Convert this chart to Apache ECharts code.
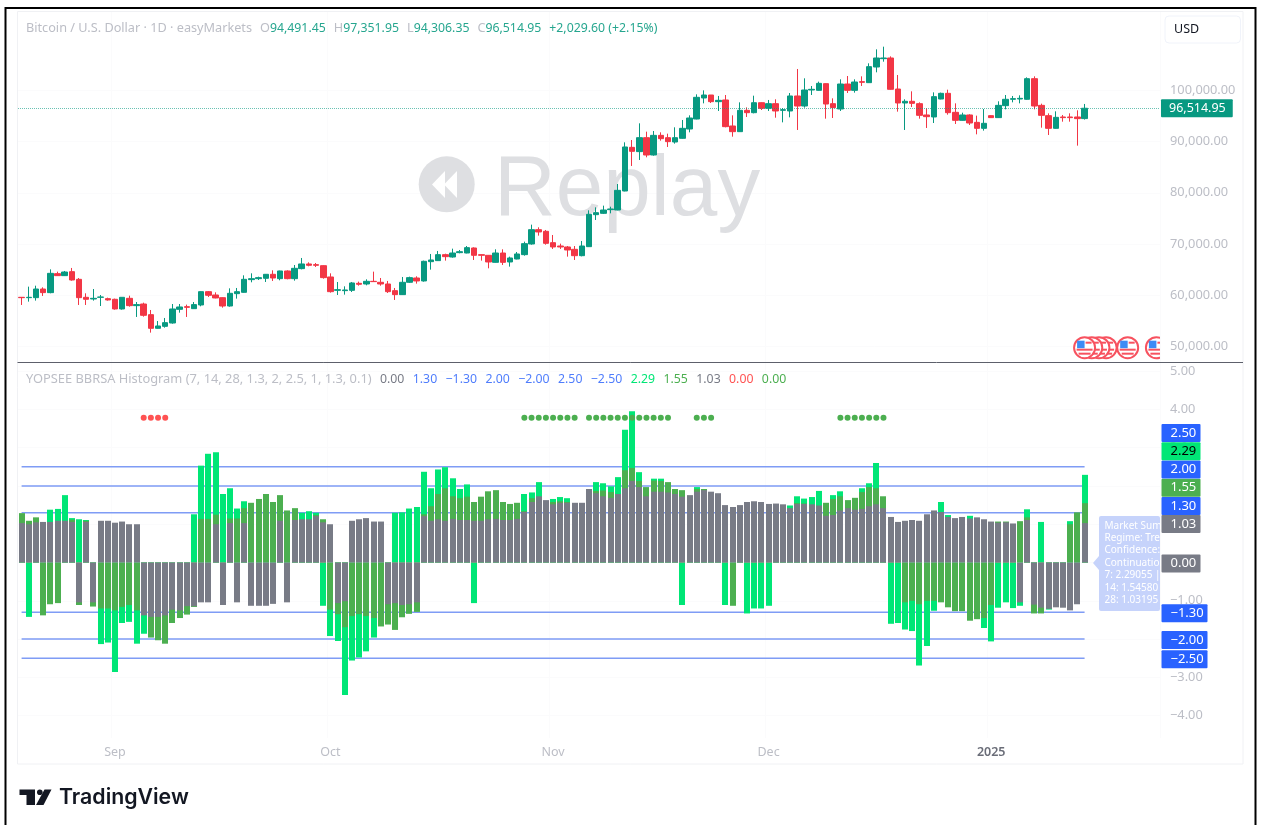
<!DOCTYPE html>
<html>
<head>
<meta charset="utf-8">
<title>BTCUSD BBRSA Histogram</title>
<script src="https://cdn.jsdelivr.net/npm/echarts@6/dist/echarts.min.js"></script>
<style>
  html, body { margin: 0; padding: 0; background: #fff; }
  #main { width: 1264px; height: 825px; filter: blur(0.35px); }
</style>
</head>
<body>
<div id="main"></div>
<script>
// daily candles, 2024-08-19 to 2025-01-14
const opens = [
  59590,59520,59520,61210,60500,64210,63820,64600,63100,59590,
  59260,59590,59330,59200,57310,59390,57960,58280,56200,53530,
  53920,54570,57240,57760,57370,58090,60690,60040,59520,57890,
  60300,60560,63040,63230,63300,64080,63230,64730,63230,65190,
  66100,65970,65770,63560,60950,60890,60950,62320,62190,62710,
  62520,62190,60890,60110,62520,63360,62780,66550,66750,67920,
  67460,68310,68240,69220,67920,67790,66420,68240,66490,67070,
  67920,70000,72800,72480,70260,69610,69420,68960,67720,69480,
  75730,75990,76710,76640,80350,88880,88040,90770,87380,91220,
  90770,89920,90640,92460,94410,98520,99100,97800,98130,93050,
  91940,96110,95650,97600,96500,97410,96110,95980,98910,96950,
  100080,100010,101320,97410,96370,101250,100010,101710,101510,104570,
  106200,106330,100270,97540,97870,97410,95200,94810,98320,99430,
  95720,94150,95200,93760,92590,95070,94680,97020,98260,98320,
  98260,102290,97080,95070,92590,94810,94810,94810,94491.45
];
const highs = [
  59650,61670,61860,61540,65050,64600,64730,65320,63360,60370,
  61210,60040,59520,59330,59590,59910,58670,58540,57110,54960,
  55550,58280,58280,58160,58670,60760,60820,60560,59590,61340,
  61410,63880,64270,63620,64140,64860,64790,64860,65900,67270,
  66420,66290,65840,64270,62580,61730,62580,62650,63100,64600,
  63360,62780,61410,63560,63620,63690,66750,68050,68640,68110,
  69090,68830,69610,69350,67980,67850,68960,68960,67530,68440,
  70460,73780,73260,72740,71760,70070,69610,69610,70590,76580,
  77160,77490,77290,81720,89860,90310,93570,91940,92070,91810,
  91550,92790,94220,95130,99230,100010,99100,98910,99100,95130,
  97670,96690,98970,97670,98130,98260,96560,99490,104180,102360,
  100860,101710,101380,98450,102160,102810,102160,102750,105290,108020,
  108540,106650,103010,98260,99820,97670,96500,99620,99560,100140,
  97470,95650,95330,95070,96370,95130,97870,99100,98910,99040,
  102550,102750,97410,95520,95910,95200,95520,96110,97351.95
];
const lows = [
  58090,58740,58940,59850,60370,63750,63750,62840,58090,58090,
  58940,57890,58940,57180,57180,57760,55750,55810,52690,53470,
  53660,54440,56590,55750,57310,57830,59650,59390,57570,57760,
  59330,60500,62520,62970,62580,62780,62910,63100,62840,65050,
  65640,65510,63230,60500,60040,60110,60630,61860,61930,62580,
  61860,60430,59070,60040,62390,62260,62650,64990,66680,66750,
  67330,68180,68180,66880,66750,65250,66360,65900,65580,67010,
  67720,69870,71630,69870,69030,69030,67530,66880,67590,69420,
  74690,75860,75990,76580,80290,85240,86410,86930,87250,90180,
  88950,89600,90570,91810,94350,97470,97540,95980,92790,90960,
  91880,94810,95520,96170,95980,94670,93760,94740,92270,96630,
  99100,99950,94480,94610,95980,99490,99560,100860,101450,103530,
  105610,100140,95850,92270,96760,94480,92660,93630,98260,95260,
  93440,94090,93240,91420,92140,94610,94610,96300,97670,97470,
  98190,96300,92720,91290,92530,93890,93890,89210,94306.35
];
const closes = [
  59520,59590,61210,60500,64270,63820,64530,62970,59520,59200,
  59390,59650,59070,57310,59590,57960,58160,56070,53530,53990,
  54640,57310,57700,57630,58160,60690,59980,59460,57890,60370,
  60690,63100,63230,63430,64080,63360,64730,63230,65250,66100,
  65840,65840,63430,60690,61080,61020,62390,62130,62710,62650,
  62190,60690,60110,62520,63430,62780,66620,66880,67920,67530,
  68240,68500,69290,67790,67790,66490,68240,66420,67270,68050,
  70070,72800,72350,70130,69420,69420,68830,67720,69610,75800,
  76120,76640,76840,80480,88950,88100,90770,87380,91220,90570,
  89990,90770,92590,94610,98650,99100,97800,98060,92920,91940,
  96110,95650,97600,96500,97410,95980,96240,98910,96950,100080,
  100210,101380,97340,96630,101250,100010,101640,101580,104640,106330,
  106330,100210,97540,97870,97470,95130,94870,98780,99430,95650,
  94150,95200,93630,92590,93570,94680,97080,98260,98390,98450,
  102290,96950,95130,92590,94740,94680,94680,94485.35,96514.95
];

// indicator histogram, three lookbacks
const bbrsa7 = [
  0.9,-1.42,0.95,-0.9,1.38,1.40,1.76,1.16,1.13,1.11,
  -0.9,-2.13,-2.09,-2.86,-1.58,-1.55,-2.12,-1.86,-1.4,-1.3,
  -1.3,-1.2,-1.2,-1.1,1.26,2.53,2.84,2.88,1.79,1.94,
  1.41,1.60,1.3,1.4,1.5,1.4,1.5,1.2,1.3,1.30,
  1.34,1.30,-1.13,-1.92,-2.05,-3.46,-2.56,-2.48,-2.32,-1.96,
  -1.3,-1.3,1.30,1.31,1.41,1.45,2.37,1.94,2.43,2.49,
  2.20,1.92,2.04,-1.06,1.5,1.7,1.7,1.4,1.4,1.4,
  1.79,1.83,2.10,1.4,1.66,1.71,1.68,1.4,1.4,1.7,
  2.10,2.07,1.99,2.23,3.47,3.95,2.36,1.9,2.19,2.19,
  1.95,1.8,-1.11,1.6,1.97,1.8,1.7,1.7,-1.11,-1.0,
  1.3,-1.33,-1.20,-1.20,-1.13,1.4,1.4,1.49,1.73,1.67,
  1.71,1.87,1.4,1.76,1.86,1.5,1.5,1.94,2.07,2.60,
  1.5,-1.60,-1.58,-1.75,-1.79,-2.69,-2.18,-1.26,1.58,1.24,
  -1.0,-1.0,1.22,-1.2,-1.71,-2.06,-1.18,-1.04,-1.19,-1.13,
  1.39,-1.0,1.06,-1.23,-1.0,-1.0,1.08,1.0,2.29
];
const bbrsa14 = [
  1.29,1.09,1.18,-1.38,-1.09,-1.06,0.95,1.12,-1.11,1.09,
  -1.15,-1.20,-1.20,-1.25,-1.16,-1.11,-1.25,-1.0,-1.96,-2.03,
  -2.12,-1.58,-1.45,-1.36,-1.16,1.14,1.14,1.25,-1.0,1.15,
  1.15,1.42,1.56,1.66,1.79,1.58,1.76,1.36,1.42,1.1,
  1.1,1.24,1.13,-1.23,-1.35,-1.69,-1.40,-1.35,-1.40,-1.45,
  -1.67,-1.62,-1.76,-1.43,-1.34,-1.29,1.26,1.47,1.79,1.94,
  1.73,1.68,1.72,1.58,1.72,1.86,1.89,1.58,1.53,1.56,
  1.34,1.68,1.6,1.5,1.58,1.60,1.58,1.5,1.5,1.8,
  1.87,1.88,1.84,1.7,2.41,2.47,2.13,1.97,2.14,2.13,
  2.10,1.92,1.89,1.7,1.92,1.92,1.8,1.7,1.4,-1.13,
  1.4,1.4,1.4,1.4,1.4,1.4,1.4,1.3,1.55,1.54,
  1.5,1.4,1.56,1.66,1.73,1.63,1.69,1.84,1.97,1.94,
  1.73,1.0,0.9,-1.04,-1.0,-1.09,-1.0,-1.0,-1.04,-1.17,
  -1.27,-1.27,-1.52,-1.48,-1.45,-1.11,1.07,1.07,0.9,1.08,
  1.18,-1.33,-1.33,-1.0,-1.0,-1.0,1.00,1.31,1.55
];
const bbrsa28 = [
  1.03,1.00,1.05,1.06,1.06,1.09,1.09,1.06,-1.04,1.06,
  -1.04,1.09,1.09,1.04,1.07,1.00,1.00,-1.38,-1.42,-1.42,
  -1.38,-1.23,-1.25,-1.14,-1.14,-1.04,-1.04,1.00,-1.11,1.03,
  -1.04,1.03,-1.13,-1.13,-1.13,-1.08,1.09,-1.04,1.11,1.13,
  1.13,1.21,1.05,1.00,-1.06,-1.01,1.09,1.13,1.16,1.07,
  1.07,-1.09,-1.06,-1.11,-1.09,-1.04,1.21,1.09,1.13,1.09,
  1.14,1.11,1.11,1.09,1.09,1.13,1.14,1.11,1.11,1.14,
  1.32,1.58,1.73,1.63,1.52,1.56,1.56,1.56,1.56,1.92,
  1.81,1.73,1.69,1.79,1.94,2.13,1.97,1.73,1.85,1.85,
  1.83,1.79,1.72,1.76,1.85,1.89,1.85,1.81,1.50,1.45,
  1.50,1.58,1.60,1.58,1.53,1.54,1.52,1.42,1.53,1.53,
  1.52,1.49,1.22,1.24,1.36,1.42,1.38,1.40,1.47,1.52,
  1.42,1.19,1.06,1.09,1.11,1.09,1.26,1.36,1.32,1.19,
  1.16,1.19,1.15,1.18,1.13,1.07,1.04,1.05,1.02,-1.04,
  1.11,-1.10,-1.18,-1.21,-1.17,-1.18,-1.25,-1.09,1.03
];

// signal dots, as day indexes
const sellDots = [17,18,19,20];
const buyDots = [70,71,72,73,74,75,76,77,79,80,81,82,83,84,85,86,87,88,89,90,94,95,96,114,115,116,117,118,119,120];
const dotLevel = 3.78;

const levels = [2.5, 2, 1.3, -1.3, -2, -2.5];
const priceTicks = [50000, 60000, 70000, 80000, 90000, 100000];
const indicatorTicks = [-4, -3, -2, -1, 0, 1, 2, 3, 4, 5];
const monthDays = {'2024-09-01': 'Sep', '2024-10-01': 'Oct', '2024-11-01': 'Nov', '2024-12-01': 'Dec', '2025-01-01': '2025'};

// economic event flags: day index and the price level they sit on
const flagDays = [158, 154, 151, 150, 149, 148];
const flagLevel = 49750;

// last values shown as tags on the indicator scale
const tagValues = [-2.5, -2, -1.3, 0, 1.03, 1.3, 1.55, 2, 2.29, 2.5];

const FONT = '"Noto Sans", sans-serif';
const UP = '#089981';
const DOWN = '#F23645';
const AXIS_TEXT = '#bcbec6';
const GRID_LINE = '#fbfbfc';
const TOTAL_DAYS = 159;

// categories run past the last candle, the chart has empty space on the right
const days = [];
for (let i = 0; i < TOTAL_DAYS; i++) {
  days.push(new Date(Date.UTC(2024, 7, 19 + i)).toISOString().slice(0, 10));
}

const fmtPrice = v => v.toLocaleString('en-US', {minimumFractionDigits: 2, maximumFractionDigits: 2});
const fmtInd = v => v.toFixed(2).replace('-', '\u2212');

// one histogram layer. x is snapped to a whole pixel, otherwise the layer
// underneath shows as a coloured fringe along the edges of the top one
function histLayer(values, color) {
  return {
    type: 'custom', xAxisIndex: 1, yAxisIndex: 1, silent: true, z: 2, clip: true,
    data: values.map((v, i) => [i, v]),
    encode: {x: 0, y: 1},
    renderItem: (params, api) => {
      const top = api.coord([api.value(0), api.value(1)]);
      const base = api.coord([api.value(0), 0]);
      return {
        type: 'rect',
        shape: {
          x: Math.round(top[0] - 3), y: Math.min(top[1], base[1]),
          width: 6, height: Math.abs(top[1] - base[1])
        },
        style: {fill: color}
      };
    }
  };
}

const chart = echarts.init(document.getElementById('main'), null, {renderer: 'canvas'});

const option = {
  animation: false,
  backgroundColor: '#fff',
  grid: [
    {left: 18, right: 104, top: 11, height: 351},
    {left: 18, right: 104, top: 362, height: 376}
  ],
  xAxis: [
    {
      type: 'category', gridIndex: 0, data: days, boundaryGap: true,
      axisLine: {show: false}, axisTick: {show: false}, axisLabel: {show: false},
      splitLine: {show: true, interval: (i, d) => d in monthDays, lineStyle: {color: GRID_LINE}}
    },
    {
      type: 'category', gridIndex: 1, data: days, boundaryGap: true,
      axisLine: {show: false}, axisTick: {show: false},
      splitLine: {show: true, interval: (i, d) => d in monthDays, lineStyle: {color: GRID_LINE}},
      axisLabel: {
        interval: (i, d) => d in monthDays,
        margin: 8,
        fontFamily: FONT, fontSize: 12.5, color: AXIS_TEXT,
        formatter: d => monthDays[d] === '2025' ? '{y|2025}' : monthDays[d],
        rich: {y: {fontFamily: FONT, fontSize: 12.5, fontWeight: 600, color: '#6a6d78'}}
      }
    }
  ],
  yAxis: [
    {
      type: 'value', gridIndex: 0, position: 'right', min: 46953, max: 115508,
      axisLine: {show: false},
      axisTick: {show: false, customValues: priceTicks},
      splitLine: {show: true, lineStyle: {color: GRID_LINE}},
      axisLabel: {
        customValues: priceTicks, align: 'left', margin: 10, padding: [0, 0, 8, 0],
        fontFamily: FONT, fontSize: 12.8, color: AXIS_TEXT, formatter: fmtPrice
      }
    },
    {
      type: 'value', gridIndex: 1, position: 'right', min: -4.583, max: 5.237,
      axisLine: {show: false},
      axisTick: {show: false, customValues: indicatorTicks},
      splitLine: {show: true, lineStyle: {color: GRID_LINE}},
      axisLabel: {
        customValues: indicatorTicks, align: 'left', margin: 10, padding: [4, 0, 0, 0],
        fontFamily: FONT, fontSize: 12.8, color: AXIS_TEXT, formatter: fmtInd
      }
    }
  ],
  series: [
    {
      type: 'candlestick', xAxisIndex: 0, yAxisIndex: 0, barWidth: 6,
      data: opens.map((o, i) => [o, closes[i], lows[i], highs[i]]),
      itemStyle: {color: UP, color0: DOWN, borderColor: UP, borderColor0: DOWN, borderWidth: 1},
      markLine: {
        silent: true, symbol: 'none', animation: false,
        data: [{yAxis: closes[closes.length - 1]}],
        lineStyle: {type: 'dotted', color: 'rgba(8,153,129,0.6)', width: 1},
        label: {
          position: 'end', distance: 1, formatter: p => fmtPrice(p.value),
          backgroundColor: UP, color: '#fff', fontFamily: FONT, fontSize: 12.5,
          padding: [3, 7, 2, 8], borderRadius: 1
        }
      }
    },
    {
      // flags are clipped at the edge of the price pane
      type: 'custom', xAxisIndex: 0, yAxisIndex: 0, clip: true, silent: true, z: 3,
      data: flagDays.map(d => [d, flagLevel]),
      renderItem: (params, api) => {
        const p = api.coord([api.value(0), api.value(1)]);
        const x = p[0], y = p[1];
        return {
          type: 'group',
          children: [
            {type: 'circle', shape: {cx: x, cy: y, r: 10.5}, style: {fill: '#fff', stroke: '#f7525f', lineWidth: 2}},
            {type: 'rect', shape: {x: x - 8, y: y + 1, width: 16, height: 2}, style: {fill: '#f7525f'}},
            {type: 'rect', shape: {x: x - 6, y: y + 5, width: 12, height: 2}, style: {fill: '#f7525f'}},
            {type: 'rect', shape: {x: x + 1, y: y - 6, width: 6, height: 2}, style: {fill: '#f7525f'}},
            {type: 'rect', shape: {x: x - 7.5, y: y - 7, width: 7.5, height: 7.5}, style: {fill: '#3d8bf5'}}
          ]
        };
      }
    },
    ...levels.map(lvl => ({
      type: 'line', xAxisIndex: 1, yAxisIndex: 1, silent: true, showSymbol: false, z: 1,
      data: closes.map(() => lvl),
      lineStyle: {color: '#7f9cf5', width: 1.5}
    })),
    histLayer(bbrsa7, '#00E676'),
    histLayer(bbrsa14, '#4CAF50'),
    histLayer(bbrsa28, '#787B86'),
    {
      type: 'scatter', xAxisIndex: 1, yAxisIndex: 1, symbolSize: 6, z: 4,
      data: sellDots.map(d => [d, dotLevel]), itemStyle: {color: '#FF5252', opacity: 1}
    },
    {
      type: 'scatter', xAxisIndex: 1, yAxisIndex: 1, symbolSize: 6, z: 4,
      data: buyDots.map(d => [d, dotLevel]), itemStyle: {color: '#4CAF50', opacity: 1}
    }
  ]
};
chart.setOption(option);

// tags on the right of the indicator pane, pushed up when they would overlap
function buildTags() {
  const out = [];
  let lastY = Infinity;
  tagValues.forEach(v => {
    let y = chart.convertToPixel({yAxisIndex: 1}, v) + 1;
    if (y > lastY - 18.2) y = lastY - 18.2;
    lastY = y;
    let fill = '#2962FF', color = '#fff';
    if (v === 2.29) { fill = '#00E676'; color = '#000'; }
    if (v === 1.55) { fill = '#4CAF50'; }
    if (v === 1.03 || v === 0) { fill = '#787B86'; }
    out.push({
      type: 'rect', z: 60,
      shape: {x: 1161.5, y: y - 9, width: v < 0 ? 46 : 39, height: 18, r: 1},
      style: {fill: fill}
    });
    out.push({
      type: 'text', z: 61, x: 1170.5, y: y,
      style: {text: fmtInd(v), fill: color, font: '13px ' + FONT, textVerticalAlign: 'middle'}
    });
  });
  return out;
}

const tipLines = ['Market Sum', 'Regime: Tre', 'Confidence:', 'Continuation', '7: 2.29055 |', '14: 1.54580', '28: 1.03195'];
const tip = [
  {type: 'polygon', z: 50, shape: {points: [[1093, 563], [1099, 556], [1099, 570]]}, style: {fill: '#c6d3fb'}},
  {type: 'rect', z: 50, shape: {x: 1099, y: 516, width: 61, height: 95, r: 2}, style: {fill: '#c6d3fb'}},
  ...tipLines.map((t, i) => ({
    type: 'text', z: 51, x: 1104.5, y: 525.7 + i * 12.4,
    style: {text: t, fill: '#fff', font: '10px ' + FONT, textVerticalAlign: 'middle'}
  }))
];

const legendTop = {
  type: 'text', z: 40, x: 26, y: 28.5,
  style: {
    text: '{g|Bitcoin / U.S. Dollar \u00b7 1D \u00b7 easyMarkets}{s| }{g|O}{v|94,491.45}{s| }{g|H}{v|97,351.95}{s| }{g|L}{v|94,306.35}{s| }{g|C}{v|96,514.95}{s| }{v|+2,029.60 (+2.15%)}',
    textVerticalAlign: 'middle',
    rich: {
      g: {fill: AXIS_TEXT, font: '12.7px ' + FONT},
      v: {fill: '#26a68f', font: '12.3px ' + FONT},
      s: {width: 8, font: '12px ' + FONT}
    }
  }
};
const legendBottom = {
  type: 'text', z: 40, x: 26, y: 379.5,
  style: {
    text: '{g|YOPSEE BBRSA Histogram (7, 14, 28, 1.3, 2, 2.5, 1, 1.3, 0.1)}{s| }{d|0.00}{s| }{b|1.30}{s| }{b|\u22121.30}{s| }{b|2.00}{s| }{b|\u22122.00}{s| }{b|2.50}{s| }{b|\u22122.50}{s| }{l|2.29}{s| }{m|1.55}{s| }{d|1.03}{s| }{r|0.00}{s| }{m|0.00}',
    textVerticalAlign: 'middle',
    rich: {
      g: {fill: AXIS_TEXT, font: '12.85px ' + FONT},
      d: {fill: '#787B86', font: '12.3px ' + FONT},
      b: {fill: '#4f7dfc', font: '12.3px ' + FONT},
      l: {fill: '#00E676', font: '12.3px ' + FONT},
      m: {fill: '#4CAF50', font: '12.3px ' + FONT},
      r: {fill: '#FF5252', font: '12.3px ' + FONT},
      s: {width: 8.4, font: '12px ' + FONT}
    }
  }
};

const frame = [
  {type: 'rect', z: 70, shape: {x: 5.5, y: 8, width: 1250, height: 840}, style: {fill: 'none', stroke: '#000', lineWidth: 2}},
  {type: 'rect', z: 0, shape: {x: 17.5, y: 11.5, width: 1225.5, height: 752.5}, style: {fill: 'none', stroke: '#f0f1f4', lineWidth: 1}},
  {type: 'line', z: 41, shape: {x1: 17.5, y1: 362.5, x2: 1243, y2: 362.5}, style: {stroke: '#5d606b', lineWidth: 1}},
  {type: 'rect', z: 40, shape: {x: 1165, y: 16, width: 75.5, height: 27, r: 4}, style: {fill: '#fff', stroke: '#f0f3fa', lineWidth: 1}},
  {type: 'text', z: 41, x: 1174, y: 29.5, style: {text: 'USD', fill: '#131722', font: '12.5px ' + FONT, textVerticalAlign: 'middle'}}
];

// replay watermark sits under the candles
const watermark = [
  {type: 'circle', z: 0, shape: {cx: 446.7, cy: 184.3, r: 28}, style: {fill: '#dedfe2'}},
  {type: 'polygon', z: 1, shape: {points: [[432, 184.5], [445, 171], [445, 198]]}, style: {fill: '#fff'}},
  {type: 'polygon', z: 1, shape: {points: [[444, 184.5], [457, 171], [457, 198]]}, style: {fill: '#fff'}},
  {type: 'text', z: 0, x: 494, y: 191, style: {text: 'Replay', fill: '#dedfe2', font: '85.5px "Liberation Sans", sans-serif', textVerticalAlign: 'middle'}}
];

const logo = [
  {type: 'polygon', z: 40, shape: {points: [[19.5, 789.5], [35, 789.5], [35, 805], [26.5, 805], [26.5, 795], [19.5, 795]]}, style: {fill: '#131722'}},
  {type: 'circle', z: 40, shape: {cx: 39.8, cy: 792.2, r: 2.8}, style: {fill: '#131722'}},
  {type: 'polygon', z: 40, shape: {points: [[44.5, 789.5], [51.5, 789.5], [43.5, 805], [36, 805]]}, style: {fill: '#131722'}},
  {type: 'text', z: 40, x: 59, y: 797.5, style: {text: 'TradingView', fill: '#131722', font: '600 21.3px Inter, sans-serif', textVerticalAlign: 'middle'}}
];

chart.setOption({
  graphic: {elements: [...watermark, ...frame, legendTop, legendBottom, ...tip, ...buildTags(), ...logo]}
});
</script>
</body>
</html>
